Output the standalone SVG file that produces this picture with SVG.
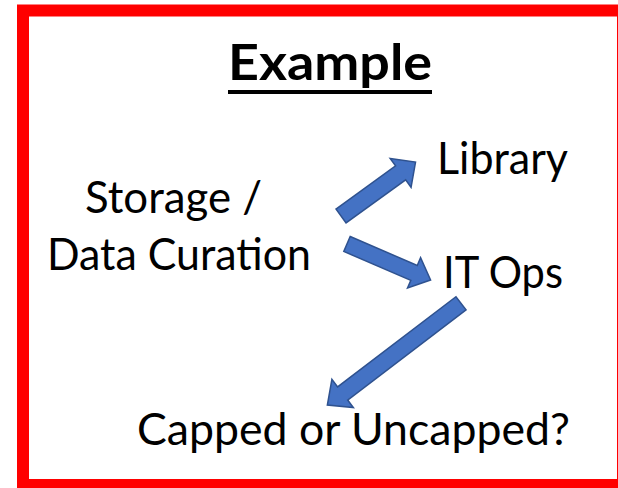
<svg xmlns="http://www.w3.org/2000/svg" width="618" height="488" viewBox="0 0 618 488">
<style>
.t{font-family:Lato,"Open Sans","Liberation Sans",sans-serif;font-size:44px;fill:#000}
.title{font-family:Lato,"Open Sans","Liberation Sans",sans-serif;font-size:50px;font-weight:bold;fill:#000}
.arrow{fill:#4472C4;stroke:#2F528F;stroke-width:1.5;stroke-linejoin:miter}
</style>
<rect x="0" y="0" width="618" height="488" fill="#fff"/>
<rect id="frame" x="23" y="10.5" width="600" height="474.5" fill="#fff" stroke="#ff0000" stroke-width="12"/>
<g id="title">
<text class="title" x="228" y="80" textLength="204" lengthAdjust="spacingAndGlyphs">Example</text>
<rect x="228" y="90" width="204" height="4" fill="#000"/>
</g>
<g id="storage">
<text class="t" x="85" y="213" textLength="177" lengthAdjust="spacingAndGlyphs">Storage /</text>
<text class="t" x="47" y="270" textLength="264" lengthAdjust="spacingAndGlyphs">Data Curation</text>
</g>
<g id="library"><text class="t" x="437" y="174" textLength="131" lengthAdjust="spacingAndGlyphs">Library</text></g>
<g id="itops"><text class="t" x="443" y="288" textLength="120" lengthAdjust="spacingAndGlyphs">IT Ops</text></g>
<g id="capped"><text class="t" x="137" y="445" textLength="433" lengthAdjust="spacingAndGlyphs">Capped or Uncapped?</text></g>
<g id="connectors">
<path class="arrow" transform="translate(341,216) rotate(-35.9)" d="M0,-8.6 L73.6,-8.6 L73.6,-17.8 L92,0 L73.6,17.8 L73.6,8.6 L0,8.6 Z"/>
<path class="arrow" transform="translate(347,244) rotate(23.3)" d="M0,-8.1 L73,-8.1 L73,-16.5 L91,0 L73,16.5 L73,8.1 L0,8.1 Z"/>
<path class="arrow" transform="translate(461,303.3) rotate(142.7)" d="M0,-8.3 L148.8,-8.3 L148.8,-17.7 L168,0 L148.8,17.7 L148.8,8.3 L0,8.3 Z"/>
</g>
</svg>
